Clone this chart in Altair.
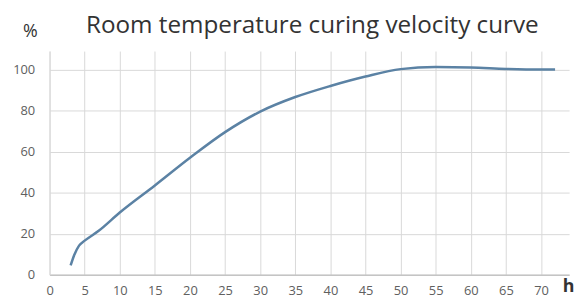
import altair as alt
import pandas as pd

hours = [3, 3.5, 4.2, 5, 7, 10, 15, 20, 25, 30, 35, 40, 45, 50, 55, 60, 65, 70, 72]
percent = [4.5, 9.5, 14.2, 16.6, 21.4, 30.3, 43.5, 57, 69.5, 79.5, 86.6, 92, 96.6, 100.2, 101.2, 101, 100.3, 100, 100]

x_ticks = [0, 5, 10, 15, 20, 25, 30, 35, 40, 45, 50, 55, 60, 65, 70]
y_ticks = [0, 20, 40, 60, 80, 100]

df = pd.DataFrame({"h": hours, "p": percent})

FONT = "Open Sans"

chart = alt.Chart(df).mark_line(
    color="#5b82a4", strokeWidth=2.5, interpolate="monotone"
).encode(
    x=alt.X("h:Q",
            scale=alt.Scale(domain=[0, 74], nice=False, zero=False),
            axis=alt.Axis(values=x_ticks, grid=True, gridColor="#d9d9d9",
                          ticks=False, domain=True, domainColor="#c4c4c4",
                          domainWidth=1.5, labelOverlap=False, labelFlush=False,
                          labelFont=FONT, labelFontSize=13, labelColor="#606060",
                          labelPadding=10, labelBaseline="top",
                          title="h", titleFont=FONT, titleFontSize=18,
                          titleFontWeight="bold", titleColor="#333333",
                          titleX=524, titleY=17, titleBaseline="alphabetic",
                          titleAlign="center")),
    y=alt.Y("p:Q",
            scale=alt.Scale(domain=[0, 109], nice=False),
            axis=alt.Axis(values=y_ticks, grid=True, gridColor="#d9d9d9",
                          ticks=False, domain=True, domainColor="#d9d9d9",
                          domainWidth=1, labelOverlap=False,
                          labelFont=FONT, labelFontSize=13, labelColor="#606060",
                          labelPadding=15,
                          title="%", titleFont=FONT, titleFontSize=18,
                          titleFontWeight="normal", titleColor="#333333",
                          titleAngle=0, titleX=-20, titleY=-20,
                          titleAlign="center", titleBaseline="middle")),
).properties(
    width=525,
    height=226,
    title=alt.TitleParams(
        "Room temperature curing velocity curve",
        font=FONT, fontSize=24.5, fontWeight="normal", color="#333333",
        anchor="middle", frame="group", offset=-16, dx=3,
    ),
    autosize=alt.AutoSizeParams(type="none"),
    padding={"left": 42, "top": 42, "right": 10, "bottom": 22},
    background="white",
).configure_view(stroke=None)

chart.save("out.html", embed_options={"renderer": "svg", "actions": False})
